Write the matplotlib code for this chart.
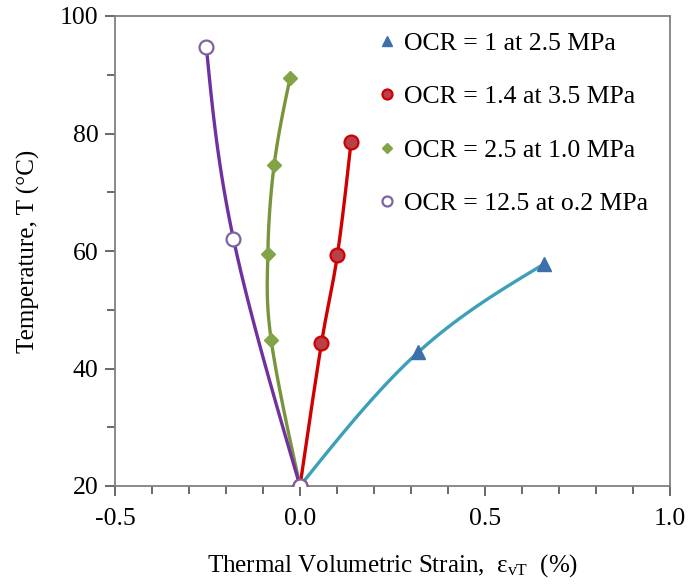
import numpy as np
import matplotlib
matplotlib.use("Agg")
import matplotlib.pyplot as plt
from matplotlib.lines import Line2D

# Data
ocr1_x = [0.0, 0.32, 0.66]
ocr1_y = [20.0, 42.8, 57.8]
ocr14_x = [0.0, 0.058, 0.101, 0.138]
ocr14_y = [20.0, 44.3, 59.3, 78.6]
ocr25_x = [0.0, -0.078, -0.087, -0.070, -0.027]
ocr25_y = [20.0, 44.9, 59.5, 74.6, 89.4]
ocr125_x = [0.0, -0.18, -0.253]
ocr125_y = [20.0, 62.1, 94.7]

labels = ["OCR = 1 at 2.5 MPa", "OCR = 1.4 at 3.5 MPa",
          "OCR = 2.5 at 1.0 MPa", "OCR = 12.5 at o.2 MPa"]


def smooth_display(ax, xs, ys, n=60):
    """Smoothed cubic Bezier path computed in display space (Excel-like)."""
    P = ax.transData.transform(np.column_stack([xs, ys]).astype(float))
    m = len(P)
    T = np.zeros_like(P)
    for i in range(1, m - 1):
        T[i] = (P[i + 1] - P[i - 1]) / 2.0
    if m > 2:
        T[0] = (3 * (P[1] - P[0]) - T[1]) / 2.0
        T[-1] = (3 * (P[-1] - P[-2]) - T[-2]) / 2.0
    else:
        T[0] = T[-1] = P[-1] - P[0]
    out = []
    t = np.linspace(0, 1, n)[:, None]
    for i in range(m - 1):
        p1, p2 = P[i], P[i + 1]
        c1 = p1 + T[i] / 3.0
        c2 = p2 - T[i + 1] / 3.0
        seg = ((1 - t) ** 3) * p1 + 3 * ((1 - t) ** 2) * t * c1 + 3 * (1 - t) * t ** 2 * c2 + t ** 3 * p2
        out.append(seg)
    s = ax.transData.inverted().transform(np.vstack(out))
    return s[:, 0], s[:, 1]


plt.rcParams['font.family'] = ['Liberation Serif', 'DejaVu Serif']
plt.rcParams['mathtext.fontset'] = 'custom'
plt.rcParams['mathtext.rm'] = 'Liberation Serif'
plt.rcParams['mathtext.it'] = 'Liberation Serif:italic'

fig = plt.figure(figsize=(6.89, 5.84), dpi=100)
ax = fig.add_axes([115 / 689, 1 - 486 / 584, (670 - 115) / 689, (486 - 16) / 584])
ax.set_xlim(-0.5, 1.0)
ax.set_ylim(20, 100)

series = [
    (ocr1_x, ocr1_y, '#3d9fb8', dict(marker='^', ms=10, mfc='#3d6faa', mec='#3d6faa')),
    (ocr14_x, ocr14_y, '#d00000', dict(marker='o', ms=10, mfc='#b84048', mec='#d00000', mew=1.6)),
    (ocr25_x, ocr25_y, '#77963c', dict(marker='D', ms=7.5, mfc='#82a447', mec='#82a447')),
    (ocr125_x, ocr125_y, '#7030a0', dict(marker='o', ms=10, mfc='white', mec='#7f62a0', mew=1.6)),
]

handles = []
for (xs, ys, lc, mk), lab in zip(series, labels):
    sx, sy = smooth_display(ax, xs, ys)
    ax.plot(sx, sy, color=lc, lw=2.4, zorder=2)
    ax.plot(xs, ys, ls='none', zorder=3, **mk)
    hmk = dict(mk)
    hmk['ms'] = mk['ms'] * 0.72
    handles.append(Line2D([], [], ls='none', label=lab, **hmk))

ax.set_xticks([-0.5, 0.0, 0.5, 1.0])
ax.set_xticklabels(['-0.5', '0.0', '0.5', '1.0'])
ax.set_xticks(np.arange(-0.5, 1.01, 0.1), minor=True)
ax.set_yticks([20, 40, 60, 80, 100])
ax.set_yticks(np.arange(20, 101, 10), minor=True)

for sp in ax.spines.values():
    sp.set_color('#808080')
    sp.set_linewidth(1.3)

ax.tick_params(axis='both', which='major', direction='out', length=7, width=1.1,
               color='#404040', labelsize=18.5, pad=5)
ax.tick_params(axis='both', which='minor', direction='out', length=6, width=1.1,
               color='#404040')
ax.tick_params(axis='x', which='major', pad=9)

ax.set_xlabel('Thermal Volumetric Strain,  ε$_{\\mathrm{vT}}$  (%)', fontsize=18, labelpad=16)
ax.set_ylabel('Temperature, T (°C)', fontsize=18, labelpad=14)

leg = ax.legend(handles=handles, loc='upper left', bbox_to_anchor=(0.448, 1.0),
                frameon=False, fontsize=18.5, handlelength=0.6, handletextpad=0.35,
                labelspacing=1.18, borderaxespad=0.22)

fig.savefig('out.png', dpi=100)
